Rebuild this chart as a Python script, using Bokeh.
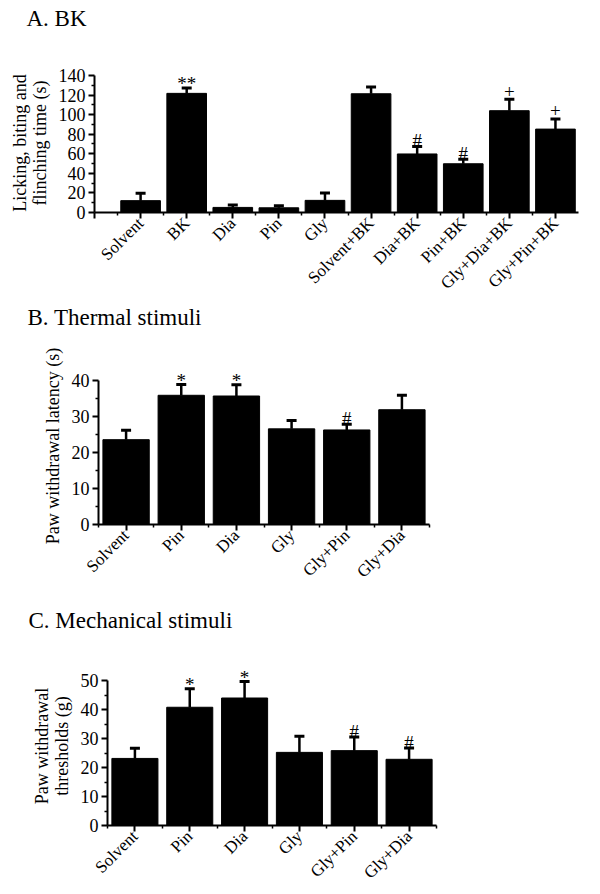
import math
from bokeh.plotting import figure
from bokeh.layouts import column
from bokeh.models import FixedTicker, Range1d, Title
from bokeh.embed import file_html
from bokeh.resources import INLINE
from bokeh.core.properties import value

FONT = "Liberation Serif"

# ---------------- data ----------------
A_categories = ["Solvent", "BK", "Dia", "Pin", "Gly", "Solvent+BK",
                "Dia+BK", "Pin+BK", "Gly+Dia+BK", "Gly+Pin+BK"]
A_means = [12.1, 121.7, 5.2, 4.8, 12.4, 121.3, 59.8, 49.8, 104.0, 85.2]
A_errs = [7.6, 5.5, 2.4, 2.1, 7.6, 6.9, 7.6, 4.5, 11.8, 10.4]
A_marks = ["", "**", "", "", "", "", "#", "#", "+", "+"]
A_yticks = [0, 20, 40, 60, 80, 100, 120, 140]

B_categories = ["Solvent", "Pin", "Dia", "Gly", "Gly+Pin", "Gly+Dia"]
B_means = [23.5, 35.8, 35.6, 26.5, 26.2, 31.8]
B_errs = [2.6, 3.0, 3.1, 2.3, 1.6, 4.0]
B_marks = ["", "*", "*", "", "#", ""]
B_yticks = [0, 10, 20, 30, 40]

C_categories = ["Solvent", "Pin", "Dia", "Gly", "Gly+Pin", "Gly+Dia"]
C_means = [23.2, 40.9, 44.1, 25.3, 25.9, 22.9]
C_errs = [3.5, 6.4, 5.7, 5.6, 4.7, 3.9]
C_marks = ["", "*", "*", "", "#", "#"]
C_yticks = [0, 10, 20, 30, 40, 50]


def make_panel(cats, means, errs, marks, yticks, ylabel, title,
               x_start, y_end, frame_w, frame_h, mb_left, mb_top,
               mb_bottom, mb_right, bar_width, cap_size, title_dx,
               title_gap, phantom=False):
    n = len(cats)
    x_end = n - 0.5
    xs = list(range(n))
    p = figure(frame_width=frame_w, frame_height=frame_h,
               x_range=Range1d(x_start, x_end), y_range=Range1d(0, y_end),
               output_backend="svg", toolbar_location=None,
               min_border_left=mb_left, min_border_top=mb_top,
               min_border_bottom=mb_bottom, min_border_right=mb_right)
    try:
        p.frame_align = False
    except Exception:
        pass
    p.outline_line_color = None
    p.xgrid.visible = False
    p.ygrid.visible = False
    p.background_fill_color = "white"
    p.border_fill_color = "white"

    # panel title: a small spacer next to the frame, then the title text
    p.title.text = ""
    p.add_layout(Title(text=" ", text_font_size="1px", standoff=title_gap,
                       text_color="white"), "above")
    p.add_layout(Title(text=title, align="left", offset=title_dx,
                       standoff=0, vertical_align="bottom",
                       text_font=FONT, text_font_size="23px",
                       text_font_style="normal", text_color="black"),
                 "above")

    tops = [m + e for m, e in zip(means, errs)]
    p.vbar(x=xs, top=means, bottom=0, width=bar_width,
           fill_color="black", line_color="black")
    p.segment(x0=xs, y0=means, x1=xs, y1=tops, line_color="black",
              line_width=2.5)
    p.scatter(x=xs, y=tops, marker="dash", size=cap_size,
              line_color="black", line_width=3)

    for sym, off in (("*", -4), ("**", -4), ("#", -6), ("+", -8)):
        idx = [i for i, m in enumerate(marks) if m == sym]
        if not idx:
            continue
        p.text(x=[xs[i] for i in idx], y=[tops[i] for i in idx],
               text=[marks[i] for i in idx], text_align="center",
               text_baseline="alphabetic", y_offset=off,
               text_font=value(FONT), text_font_size="19px",
               text_color="black")

    # x axis
    major = ([-1] if phantom else []) + xs
    minor = [i - 0.5 for i in range(n + 1)] if not phantom else \
        [i - 0.5 for i in range(n)]
    p.xaxis.ticker = FixedTicker(ticks=major, minor_ticks=minor)
    overrides = {i: c for i, c in zip(xs, cats)}
    if phantom:
        overrides[-1] = ""
    p.xaxis.major_label_overrides = overrides
    p.xaxis.major_label_orientation = math.pi / 4
    p.xaxis.bounds = (x_start, x_end)

    # y axis
    step = yticks[1] - yticks[0]
    yminor = [t + step / 2 for t in yticks[:-1]]
    p.yaxis.ticker = FixedTicker(ticks=yticks, minor_ticks=yminor)
    p.yaxis.bounds = (0, yticks[-1])
    p.yaxis.axis_label = ylabel

    for ax in (p.xaxis, p.yaxis):
        ax.axis_line_width = 2
        ax.axis_line_color = "black"
        ax.major_tick_line_width = 2
        ax.major_tick_line_color = "black"
        ax.minor_tick_line_width = 1.5
        ax.minor_tick_line_color = "black"
        ax.major_tick_out = 6
        ax.major_tick_in = 0
        ax.minor_tick_out = 3
        ax.minor_tick_in = 0
        ax.major_label_text_font = FONT
        ax.major_label_text_color = "black"
        ax.axis_label_text_font = FONT
        ax.axis_label_text_font_size = "18px"
        ax.axis_label_text_font_style = "normal"
        ax.axis_label_text_color = "black"
        ax.axis_label_text_line_height = 1.0
    p.xaxis.major_label_text_font_size = "17px"
    p.yaxis.major_label_text_font_size = "18px"
    p.yaxis.major_label_standoff = 3
    p.yaxis.axis_label_standoff = 6
    p.xaxis.major_label_standoff = 2
    return p


pA = make_panel(A_categories, A_means, A_errs, A_marks, A_yticks,
                "Licking, biting and\nflinching time (s)", "A. BK",
                x_start=-1, y_end=142, frame_w=484, frame_h=139,
                mb_left=94, mb_top=73, mb_bottom=90, mb_right=14,
                bar_width=0.86, cap_size=10, title_dx=-68,
                title_gap=39.5, phantom=True)
pB = make_panel(B_categories, B_means, B_errs, B_marks, B_yticks,
                "Paw withdrawal latency (s)", "B. Thermal stimuli",
                x_start=-0.5, y_end=43.5, frame_w=331, frame_h=157,
                mb_left=98, mb_top=64, mb_bottom=81, mb_right=163,
                bar_width=0.84, cap_size=10, title_dx=-71,
                title_gap=34.5)
pC = make_panel(C_categories, C_means, C_errs, C_marks, C_yticks,
                "Paw withdrawal\nthresholds (g)", "C. Mechanical stimuli",
                x_start=-0.5, y_end=55, frame_w=329, frame_h=159,
                mb_left=107, mb_top=61, mb_bottom=70, mb_right=156,
                bar_width=0.84, cap_size=10, title_dx=-79,
                title_gap=31)

layout = column(pA, pB, pC, spacing=0)
open("out.html", "w").write(file_html(layout, INLINE))
